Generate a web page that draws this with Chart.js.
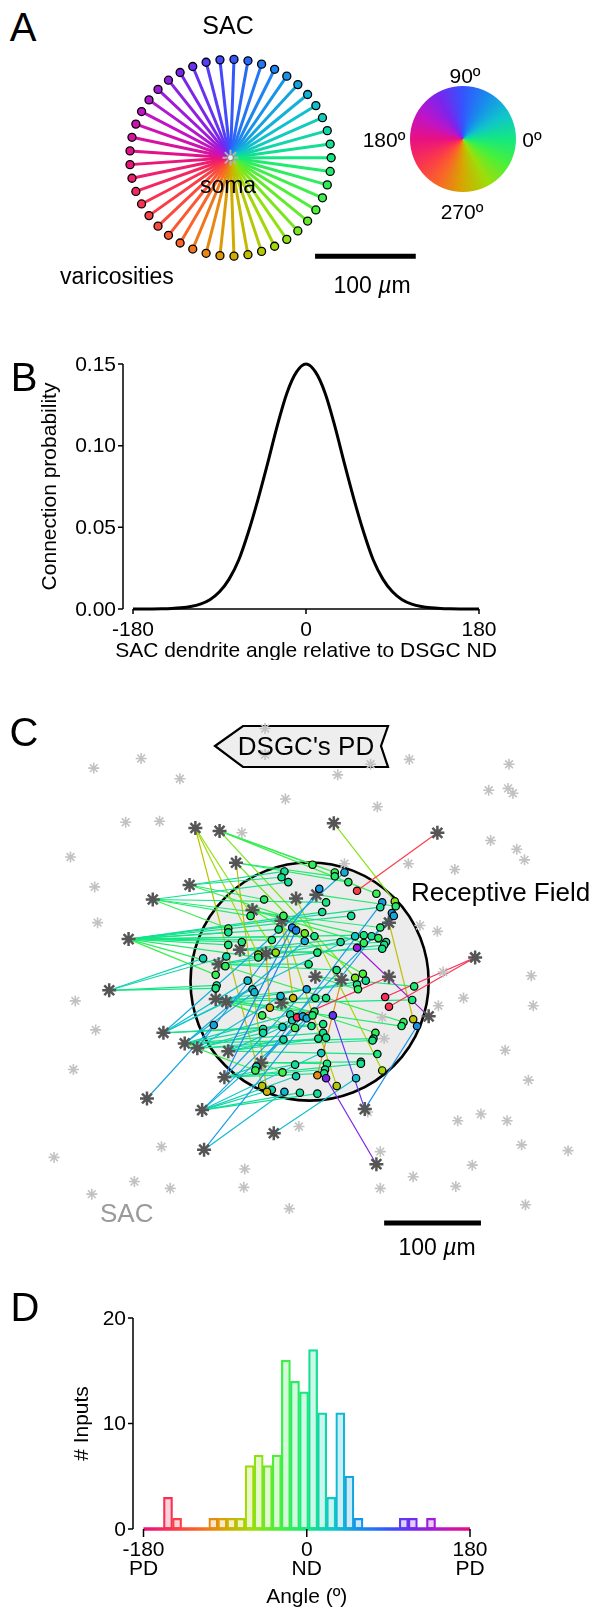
<!DOCTYPE html>
<html>
<head>
<meta charset="utf-8">
<script src="https://cdn.jsdelivr.net/npm/chart.js@4.4.0/dist/chart.umd.min.js"></script>
<style>
  html, body { margin:0; padding:0; background:#fff; }
  body { width:595px; height:1608px; position:relative; overflow:hidden;
         font-family:"Liberation Sans", Arial, Helvetica, sans-serif; }
  canvas { position:absolute; z-index:1; }
  svg { position:absolute; left:0; top:0; z-index:0; }
  .t { position:absolute; white-space:nowrap; line-height:1; color:#000; z-index:2; }
  .c { transform:translate(-50%,-50%); }
  .l { transform:translateY(-50%); }
</style>
</head>
<body>

<svg width="595" height="1608">
  <polygon points="215,746 243,726 388,726 381,746 388,767 243,767" fill="#eeeeee" stroke="#000" stroke-width="2.2" stroke-linejoin="miter"/>
</svg>

<canvas id="cA" width="340" height="250" style="left:100px;top:30px"></canvas>
<canvas id="cW" width="110" height="110" style="left:408px;top:84px"></canvas>
<canvas id="cB" width="595" height="320" style="left:0px;top:340px"></canvas>
<canvas id="cC" width="595" height="560" style="left:0px;top:690px"></canvas>
<canvas id="cD" width="595" height="328" style="left:0px;top:1280px"></canvas>

<!-- Panel A text -->
<div class="t c" style="left:23px;top:27px;font-size:40px">A</div>
<div class="t c" style="left:228px;top:25px;font-size:25px">SAC</div>
<div class="t c" style="left:228px;top:185px;font-size:23px">soma</div>
<div class="t c" style="left:117px;top:276px;font-size:23px">varicosities</div>
<div class="t c" style="left:465px;top:75px;font-size:21px">90º</div>
<div class="t c" style="left:384px;top:139px;font-size:21px">180º</div>
<div class="t c" style="left:532px;top:139px;font-size:21px">0º</div>
<div class="t c" style="left:462px;top:211px;font-size:21px">270º</div>
<div class="t c" style="left:372px;top:285px;font-size:23px">100 <i>µ</i>m</div>

<!-- Panel B/C/D text -->
<div class="t c" style="left:24px;top:377px;font-size:40px">B</div>
<div class="t c" style="left:24px;top:732px;font-size:40px">C</div>
<div class="t c" style="left:306px;top:746px;font-size:26px">DSGC's PD</div>
<div class="t l" style="left:411px;top:892px;font-size:26px">Receptive Field</div>
<div class="t l" style="left:100px;top:1213px;font-size:26px;color:#9a9a9a">SAC</div>
<div class="t c" style="left:437px;top:1247px;font-size:23px">100 <i>µ</i>m</div>
<div class="t c" style="left:25px;top:1307px;font-size:40px">D</div>

<script>
// ================= DATA =================
// Panel A: SAC dendrite directions (degrees) and length (µm)
const dendriteAngles = [0,8,16,24,32,40,48,56,64,72,80,88,96,104,112,120,128,136,144,152,160,168,176,
                        184,192,200,208,216,224,232,240,248,256,264,272,280,288,296,304,312,320,328,336,344,352];
const dendriteLength = 100;
const scaleBarLength = 100;

// Panel B: connection probability vs SAC dendrite angle
const bAngles = [-180,-170,-160,-150,-140,-130,-120,-110,-100,-90,-80,-70,-60,-50,-40,-30,-20,-10,0,
                 10,20,30,40,50,60,70,80,90,100,110,120,130,140,150,160,170,180];
const bProb = [0,0,0,0.0001,0.0003,0.0007,0.0015,0.003,0.0057,0.0105,0.0183,0.030,0.047,0.067,0.089,0.112,0.132,0.145,0.150,
               0.145,0.132,0.112,0.089,0.067,0.047,0.030,0.0183,0.0105,0.0057,0.003,0.0015,0.0007,0.0003,0.0001,0,0,0];
const bXTicks = [-180, 0, 180];
const bXTickLabels = ['-180', '0', '180'];
const bYTicks = [0, 0.05, 0.10, 0.15];
const bYTickLabels = ['0.00', '0.05', '0.10', '0.15'];

// Panel C: positions in µm relative to the receptive-field centre (y up)
const rfRadius = 123;
const connectedSomas = [
  [-118,159],[-93,156],[-76,123],[-124,100],[-162,85],[-59,74],[-29,63],[-14,86],[7,90],[25,164],
  [132,154],[82,61],[-187,44],[-207,-9],[-72,33],[-45,29],[-94,18],[-97,-18],[-86,-21],[-151,-53],
  [-129,-64],[-116,-69],[-84,-72],[-50,-84],[-88,-99],[-168,-121],[-111,-133],[-109,-174],[-37,-157],[171,25],
  [6,5],[33,2],[82,5],[123,-36],[57,-132],[69,-189],[-29,-22]
];
const otherSomas = [
  [-46,262],[-46,235],[-174,231],[-223,221],[-134,210],[-25,189],[-190,165],[-155,166],[-70,154],[-247,129],
  [-222,98],[-219,61],[103,230],[29,214],[63,225],[70,181],[206,225],[185,198],[205,200],[210,195],
  [187,146],[214,137],[222,126],[102,122],[150,116],[36,122],[114,58],[132,52],[-242,-20],[-221,-50],
  [-244,-91],[-264,-182],[-153,-171],[-181,-207],[-144,-214],[-225,-220],[-67,-194],[-68,-213],[-21,-235],[-11,-150],
  [138,10],[159,-17],[133,-25],[229,6],[231,-25],[75,-37],[77,-59],[202,-71],[226,-102],[177,-137],
  [153,-144],[204,-144],[219,-169],[267,-175],[168,-190],[107,-202],[73,-176],[73,-214],[151,-212],[223,-231],
  [60,-135]
];
// [index of connected soma, varicosity x, varicosity y]
const inputs = [
  [3,-26,114],[3,-29,108],[4,-22,103],[3,-47,85],[4,-61,68],[3,-27,68],[12,-32,54],[22,-18,56],[24,-14,53],[4,-84,55],
  [12,-84,51],[12,-39,43],[12,-70,41],[12,-84,38],[0,-35,30],[0,-53,28],[1,3,121],[1,26,113],[2,26,109],[19,36,113],
  [2,40,103],[10,49,94],[1,69,91],[21,10,96],[4,17,82],[23,75,82],[12,73,77],[9,88,83],[8,89,78],[12,13,72],
  [12,43,68],[27,85,71],[26,87,68],[4,73,56],[2,-5,50],[12,5,47],[20,-5,42],[19,47,47],[12,56,48],[14,64,47],
  [16,32,41],[5,56,40],[5,71,45],[14,79,41],[16,77,38],[15,75,34],[33,49,35],[14,8,30],
  [13,-110,24],[13,-86,26],[12,-87,16],[12,-53,25],[12,-97,7],[13,-96,-4],[13,-97,-7],[19,-64,1],[19,-59,-8],[20,-57,-11],
  [21,-30,-15],[6,-17,-17],[15,-41,-27],[17,-49,-35],[20,-20,-34],[21,-18,-40],[32,-13,-37],[18,-15,-48],[22,-28,-47],[20,-48,-49],
  [21,-48,-53],[25,-99,-45],[22,-27,-60],[16,-1,18],[16,28,12],[1,47,4],[5,55,8],[17,49,-3],[18,58,1],[30,50,-8],
  [24,-3,-8],[17,6,-17],[18,17,-17],[29,78,-16],[29,82,-26],[30,108,-5],[36,106,-19],[23,-7,-36],[26,-3,-38],[17,5,-31],
  [18,3,-35],[34,24,-35],[19,2,-46],[19,14,-44],[20,14,-53],[21,9,-59],[22,17,-58],[36,68,-53],[20,66,-59],[21,65,-61],
  [16,97,-42],[17,95,-46],[11,107,-39],[34,111,-46],
  [26,12,-74],[22,70,-75],[23,53,-83],[24,53,-85],[23,18,-85],[24,16,-91],[24,15,-95],[31,8,-97],[35,17,-100],[7,75,-92],
  [28,48,-100],[6,28,-108],[26,8,-116],[24,-15,-86],[23,-28,-94],[26,-14,-98],[24,-55,-88],[20,-56,-92],[0,-49,-108],[26,-39,-112],
  [2,-44,-114],[27,-26,-114],[26,-10,-115]
];

// Panel D: histogram of input angles (bins of 10 degrees)
const dBinCenters = [-173,-163,-153,-143,-133,-123,-113,-103,-93,-83,-73,-63,-53,-43,-33,-23,-13,-3,
                     7,17,27,37,47,57,67,77,87,97,107,117,127,137,147,157,167,177];
const dCounts = [0,0,3,1,0,0,0,1,1,1,1,6,7,6,7,16,14,13,
                 17,11,3,11,5,1,0,0,0,0,1,1,0,1,0,0,0,0];
const dXTicks = [-180, 0, 180];
const dXTickLabels = [['-180','PD'], ['0','ND'], ['180','PD']];
const dYTicks = [0, 10, 20];
const dYTickLabels = ['0', '10', '20'];

// ================= STYLE HELPERS =================
const FONT = '"Liberation Sans", Arial, Helvetica, sans-serif';
const hueAnchors = [[20,232,128],[16,196,204],[24,140,236],[52,84,255],[124,36,236],[190,20,200],
                    [232,16,130],[250,52,80],[250,100,40],[214,168,0],[156,222,10],[72,240,60]];
function angleRGB(deg) {
  const a = ((deg % 360) + 360) % 360;
  const i = Math.floor(a / 30), t = (a - 30 * i) / 30;
  const c0 = hueAnchors[i % 12], c1 = hueAnchors[(i + 1) % 12];
  return c0.map((v, k) => Math.round(v + (c1[k] - v) * t));
}
function angleColor(deg) { const c = angleRGB(deg); return 'rgb(' + c.join(',') + ')'; }
function tint(deg, f) { const c = angleRGB(deg); return 'rgb(' + c.map(v => Math.round(255 - (255 - v) * f)).join(',') + ')'; }

function xyOptions(xmin, xmax, ymin, ymax, padding) {
  return {
    responsive: false, animation: false, events: [],
    layout: { padding: padding || 0 },
    plugins: { legend: { display: false }, tooltip: { enabled: false }, title: { display: false } },
    scales: {
      x: { type: 'linear', display: false, min: xmin, max: xmax },
      y: { type: 'linear', display: false, min: ymin, max: ymax }
    },
    elements: { line: { tension: 0 } }
  };
}

// ================= PANEL A =================
(function () {
  const pxPerUm = 1.07, cx = 128, cy = 128, W = 340, H = 250;
  const rad = d => d * Math.PI / 180;
  const tips = dendriteAngles.map(a => ({ x: dendriteLength * Math.cos(rad(a)), y: dendriteLength * Math.sin(rad(a)) }));
  const ds = [];
  ds.push({ data: [{ x: 0, y: 0 }], pointStyle: 'circle', pointRadius: 3, pointBackgroundColor: '#f0f0f0',
            pointBorderColor: '#8a8a8a', pointBorderWidth: 1.2, order: 0, clip: false });
  ds.push({ data: [{ x: 0, y: 0 }], pointStyle: 'star', pointRadius: 8, pointBorderColor: '#b4b4b4',
            pointBorderWidth: 2, order: 1, clip: false });
  ds.push({ data: tips, pointStyle: 'circle', pointRadius: 4, pointBackgroundColor: dendriteAngles.map(angleColor),
            pointBorderColor: '#000', pointBorderWidth: 1.3, order: 2, clip: false });
  dendriteAngles.forEach((a, i) => ds.push({ data: [{ x: 0, y: 0 }, tips[i]], showLine: true, borderColor: angleColor(a),
            borderWidth: 3, pointRadius: 0, order: 3, clip: false }));
  const sbX = 84, sbY = -100;
  ds.push({ data: [{ x: sbX, y: sbY }, { x: sbX + scaleBarLength, y: sbY }], showLine: true, borderColor: '#000',
            borderWidth: 5, borderCapStyle: 'butt', pointRadius: 0, order: 4, clip: false });
  new Chart(document.getElementById('cA'), {
    type: 'scatter', data: { datasets: ds },
    options: xyOptions(-cx / pxPerUm, (W - cx) / pxPerUm, -(H - cy) / pxPerUm, cy / pxPerUm)
  });
})();

// ================= COLOUR WHEEL =================
(function () {
  new Chart(document.getElementById('cW'), {
    type: 'pie',
    data: { datasets: [{ data: [360], borderWidth: 0,
      backgroundColor: (c) => {
        const ch = c.chart, area = ch.chartArea;
        if (!area) return '#ccc';
        const g = ch.ctx.createConicGradient(0, (area.left + area.right) / 2, (area.top + area.bottom) / 2);
        for (let k = 0; k <= 12; k++) g.addColorStop(k / 12, angleColor(360 - 30 * k));
        return g;
      } }] },
    options: { responsive: false, animation: false, events: [], radius: 53,
      layout: { padding: 2 }, plugins: { legend: { display: false }, tooltip: { enabled: false } } }
  });
})();

// ================= PANEL B =================
(function () {
  const axes = {
    id: 'axesB',
    afterDraw(chart) {
      const { ctx, chartArea } = chart, xs = chart.scales.x, ys = chart.scales.y;
      ctx.save();
      ctx.strokeStyle = '#000'; ctx.fillStyle = '#000'; ctx.lineWidth = 1.5;
      const ax = chartArea.left - 10, y0 = ys.getPixelForValue(0);
      ctx.beginPath();
      ctx.moveTo(ax, ys.getPixelForValue(bYTicks[bYTicks.length - 1])); ctx.lineTo(ax, y0);
      ctx.moveTo(xs.getPixelForValue(bXTicks[0]), y0); ctx.lineTo(xs.getPixelForValue(bXTicks[bXTicks.length - 1]), y0);
      bYTicks.forEach(v => { const p = ys.getPixelForValue(v); ctx.moveTo(ax - 5, p); ctx.lineTo(ax, p); });
      bXTicks.forEach(v => { const p = xs.getPixelForValue(v); ctx.moveTo(p, y0); ctx.lineTo(p, y0 + 5); });
      ctx.stroke();
      ctx.font = '21px ' + FONT;
      ctx.textAlign = 'right'; ctx.textBaseline = 'middle';
      bYTicks.forEach((v, i) => ctx.fillText(bYTickLabels[i], ax - 7, ys.getPixelForValue(v) + 1));
      ctx.textAlign = 'center'; ctx.textBaseline = 'alphabetic';
      bXTicks.forEach((v, i) => ctx.fillText(bXTickLabels[i], xs.getPixelForValue(v), y0 + 27));
      ctx.textBaseline = 'middle';
      ctx.fillText('SAC dendrite angle relative to DSGC ND', xs.getPixelForValue(0), y0 + 42);
      ctx.save();
      ctx.translate(50, (ys.getPixelForValue(0) + ys.getPixelForValue(0.15)) / 2);
      ctx.rotate(-Math.PI / 2);
      ctx.fillText('Connection probability', 0, 0);
      ctx.restore();
      ctx.restore();
    }
  };
  new Chart(document.getElementById('cB'), {
    type: 'line',
    data: { datasets: [{ data: bAngles.map((a, i) => ({ x: a, y: bProb[i] })), borderColor: '#000', borderWidth: 3,
      pointRadius: 0, cubicInterpolationMode: 'monotone', fill: false, clip: false }] },
    options: xyOptions(-180, 180, 0, 0.15, { left: 133, right: 116, top: 24, bottom: 51 }),
    plugins: [axes]
  });
})();

// ================= PANEL C =================
(function () {
  const rf = {
    id: 'rf',
    beforeDatasetsDraw(chart) {
      const { ctx } = chart, xs = chart.scales.x, ys = chart.scales.y;
      const cx = xs.getPixelForValue(0), cy = ys.getPixelForValue(0);
      const r = xs.getPixelForValue(rfRadius) - cx;
      ctx.save();
      ctx.beginPath(); ctx.arc(cx, cy, r, 0, Math.PI * 2);
      ctx.fillStyle = '#ececec'; ctx.fill();
      ctx.lineWidth = 2.6; ctx.strokeStyle = '#000'; ctx.stroke();
      ctx.restore();
    }
  };
  const ds = [];
  const varicColors = inputs.map(([s, x, y]) => {
    const [sx, sy] = connectedSomas[s];
    return angleColor(Math.atan2(y - sy, x - sx) * 180 / Math.PI);
  });
  ds.push({ data: inputs.map(v => ({ x: v[1], y: v[2] })), pointStyle: 'circle', pointRadius: 3.7,
    pointBackgroundColor: varicColors, pointBorderColor: '#000', pointBorderWidth: 1.2, order: 0, clip: false });
  ds.push({ data: connectedSomas.map(p => ({ x: p[0], y: p[1] })), pointStyle: 'star', pointRadius: 7,
    pointBorderColor: '#555', pointBorderWidth: 2.5, order: 1, clip: false });
  ds.push({ data: otherSomas.map(p => ({ x: p[0], y: p[1] })), pointStyle: 'star', pointRadius: 5.5,
    pointBorderColor: '#c2c2c2', pointBorderWidth: 1.6, order: 2, clip: false });
  inputs.forEach((v, i) => {
    const [sx, sy] = connectedSomas[v[0]];
    ds.push({ data: [{ x: sx, y: sy }, { x: v[1], y: v[2] }], showLine: true, borderColor: varicColors[i],
      borderWidth: 1.2, pointRadius: 0, order: 3, clip: false });
  });
  const sbX = 77, sbY = -250;
  ds.push({ data: [{ x: sbX, y: sbY }, { x: sbX + scaleBarLength, y: sbY }], showLine: true, borderColor: '#000',
    borderWidth: 5, borderCapStyle: 'butt', pointRadius: 0, order: 4, clip: false });
  new Chart(document.getElementById('cC'), {
    type: 'scatter', data: { datasets: ds },
    options: xyOptions(-310, 285, -268, 292),
    plugins: [rf]
  });
})();

// ================= PANEL D =================
(function () {
  const axes = {
    id: 'axesD',
    afterDatasetsDraw(chart) {
      const { ctx, chartArea } = chart, xs = chart.scales.x, ys = chart.scales.y;
      const y0 = ys.getPixelForValue(0), x0 = xs.getPixelForValue(-180), x1 = xs.getPixelForValue(180);
      ctx.save();
      const g = ctx.createLinearGradient(x0, 0, x1, 0);
      for (let k = 0; k <= 12; k++) g.addColorStop(k / 12, angleColor(-180 + 30 * k));
      ctx.strokeStyle = g; ctx.lineWidth = 3.5; ctx.lineCap = 'butt';
      ctx.beginPath(); ctx.moveTo(x0, y0); ctx.lineTo(x1, y0); ctx.stroke();
      ctx.strokeStyle = '#000'; ctx.fillStyle = '#000'; ctx.lineWidth = 1.5;
      const ax = chartArea.left - 10.5;
      ctx.beginPath();
      ctx.moveTo(ax, ys.getPixelForValue(dYTicks[dYTicks.length - 1])); ctx.lineTo(ax, y0);
      dYTicks.forEach(v => { const p = ys.getPixelForValue(v); ctx.moveTo(ax - 5, p); ctx.lineTo(ax, p); });
      dXTicks.forEach(v => { const p = xs.getPixelForValue(v); ctx.moveTo(p, y0); ctx.lineTo(p, y0 + 8); });
      ctx.stroke();
      ctx.font = '21px ' + FONT;
      ctx.textAlign = 'right'; ctx.textBaseline = 'middle';
      dYTicks.forEach((v, i) => ctx.fillText(dYTickLabels[i], ax - 7, ys.getPixelForValue(v) + 1));
      ctx.textAlign = 'center'; ctx.textBaseline = 'alphabetic';
      dXTicks.forEach((v, i) => {
        const p = xs.getPixelForValue(v);
        ctx.fillText(dXTickLabels[i][0], p, y0 + 27);
        ctx.fillText(dXTickLabels[i][1], p, y0 + 46);
      });
      ctx.fillText('Angle (º)', xs.getPixelForValue(0), y0 + 74);
      ctx.save();
      ctx.textBaseline = 'middle';
      ctx.translate(82, (ys.getPixelForValue(0) + ys.getPixelForValue(20)) / 2);
      ctx.rotate(-Math.PI / 2);
      ctx.fillText('# Inputs', 0, 0);
      ctx.restore();
      ctx.restore();
    }
  };
  const opts = xyOptions(-180, 180, 0, 20, { left: 143.5, right: 125, top: 38, bottom: 79 });
  opts.scales.x.offset = false;
  new Chart(document.getElementById('cD'), {
    type: 'bar',
    data: { datasets: [{
      data: dBinCenters.map((c, i) => ({ x: c, y: dCounts[i] > 0 ? dCounts[i] : null })),
      backgroundColor: (c) => tint(dBinCenters[c.dataIndex], 0.22),
      borderColor: (c) => angleColor(dBinCenters[c.dataIndex]),
      borderWidth: 2.2, borderSkipped: false, categoryPercentage: 1, barPercentage: 1, clip: false
    }] },
    options: opts,
    plugins: [axes]
  });
})();
</script>
</body>
</html>
